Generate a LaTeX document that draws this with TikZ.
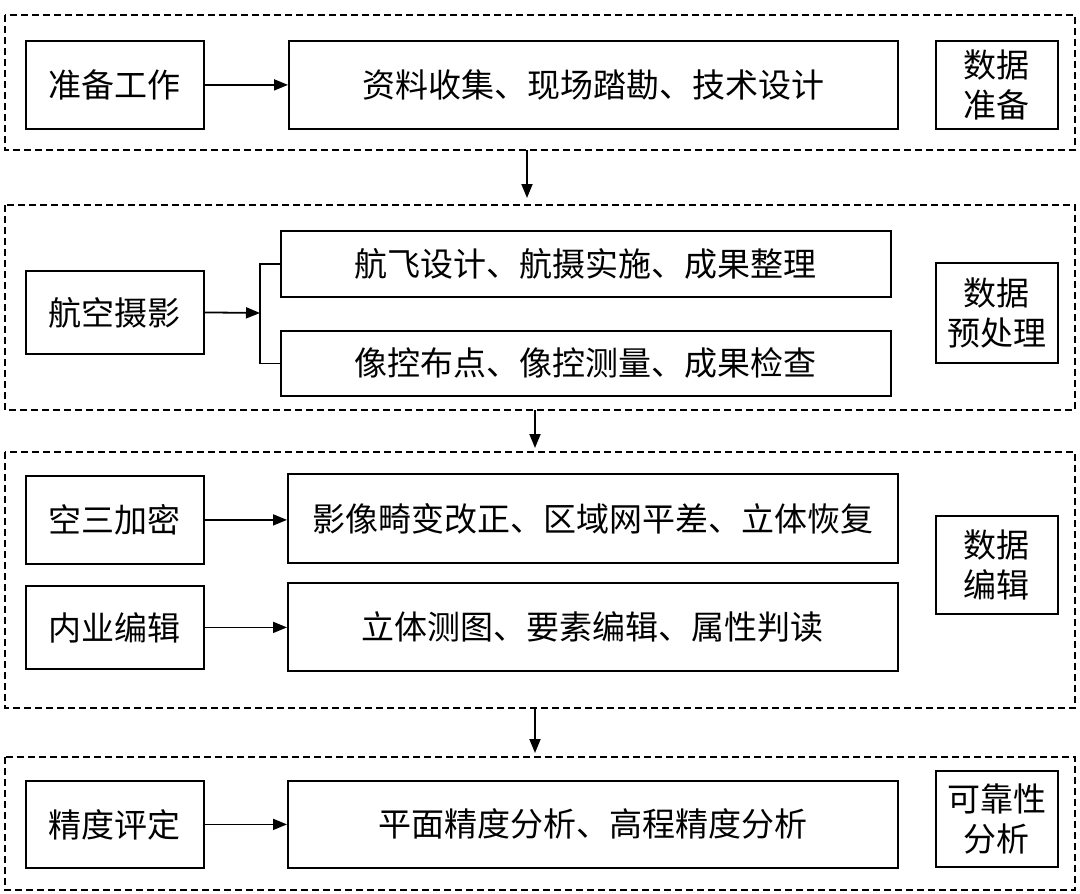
\documentclass[tikz,border=0pt]{standalone}
\usepackage{fontspec}
\setmainfont{Noto Sans CJK SC}
\usetikzlibrary{arrows.meta}
\begin{document}
\begin{tikzpicture}[x=1pt,y=-1pt,
  frame/.style={draw,line width=1.8pt,dash pattern=on 7pt off 4pt},
  box/.style={draw,line width=1.8pt,font=\fontsize{33}{40}\selectfont},
  arr/.style={line width=1.8pt,-{Triangle[length=14pt,width=11pt]}}]
\useasboundingbox (0,0) rectangle (1080,894);
\fill[white] (0,0) rectangle (1080,894);
% frames
\draw[frame] (5,15) rectangle (1075,150);
\draw[frame] (5,205) rectangle (1075,410);
\draw[frame] (5,452) rectangle (1075,708);
\draw[frame] (5,757) rectangle (1075,890);
% nodes
\tikzset{b/.style={box,anchor=north west,inner sep=0pt,align=center}}
\node[b,minimum width=178,minimum height=88] (a1) at (25,40) {准备工作};
\node[b,minimum width=609,minimum height=88] (a2) at (288,40) {资料收集、现场踏勘、技术设计};
\node[b,minimum width=122,minimum height=88] (a3) at (935,40) {数据\\准备};
\node[b,minimum width=178,minimum height=83] (b1) at (25,270) {航空摄影};
\node[b,minimum width=610,minimum height=66] (b2) at (280,230) {航飞设计、航摄实施、成果整理};
\node[b,minimum width=610,minimum height=65] (b3) at (280,330) {像控布点、像控测量、成果检查};
\node[b,minimum width=122,minimum height=100] (b4) at (935,262) {数据\\预处理};
\node[b,minimum width=178,minimum height=88] (c1) at (25,475) {空三加密};
\node[b,minimum width=610,minimum height=89] (c2) at (287,473) {影像畸变改正、区域网平差、立体恢复};
\node[b,minimum width=178,minimum height=83] (c3) at (25,585) {内业编辑};
\node[b,minimum width=610,minimum height=88] (c4) at (287,582) {立体测图、要素编辑、属性判读};
\node[b,minimum width=122,minimum height=98] (c5) at (935,515) {数据\\编辑};
\node[b,minimum width=178,minimum height=87] (d1) at (25,780) {精度评定};
\node[b,minimum width=610,minimum height=87] (d2) at (287,780) {平面精度分析、高程精度分析};
\node[b,minimum width=122,minimum height=96] (d3) at (935,770) {可靠性\\分析};
% arrows
\draw[arr] (a1.east) -- (a2.west);
\draw[arr] (c1.east) -- (c2.west|-c1.east);
\draw[arr] (c3.east) -- (c4.west|-c3.east);
\draw[arr] (d1.east) -- (d2.west);
\coordinate (br) at (260,313);
\draw[arr] (b1.east) -- (br);
\draw[line width=1.8pt] (b2.west) -| (260,313) |- (b3.west);
\coordinate (f1) at (527,150); \coordinate (f1e) at (527,198);
\coordinate (f2) at (535,410); \coordinate (f2e) at (535,448);
\coordinate (f3) at (535,708); \coordinate (f3e) at (535,753);
\draw[arr] (f1) -- (f1e);
\draw[arr] (f2) -- (f2e);
\draw[arr] (f3) -- (f3e);
\end{tikzpicture}
\end{document}
